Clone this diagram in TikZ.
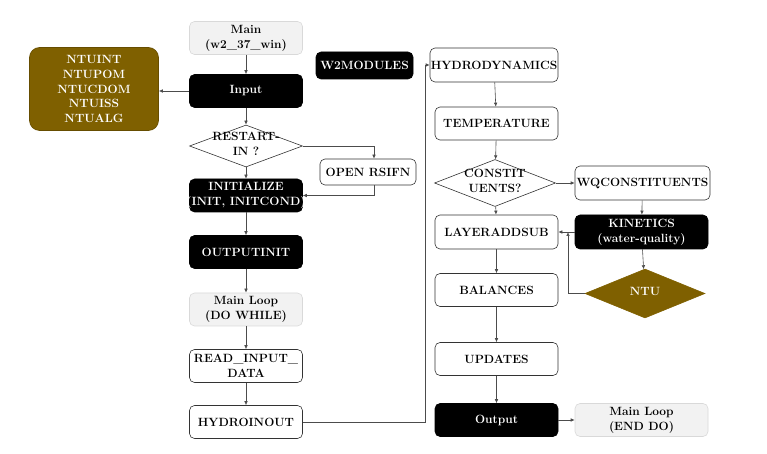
\documentclass[tikz,border=0pt]{standalone}
\usepackage{xcolor}
\usepackage{tikz}
\usetikzlibrary{positioning,arrows.meta,shapes}

\definecolor{ntubrown}{RGB}{127,96,0}
\definecolor{loopgray}{RGB}{242,242,242}
\newcommand{\dtext}[1]{\makebox[0pt]{\raisebox{-0.4ex}[0pt][0pt]{\begin{tabular}{@{}c@{}}#1\end{tabular}}}}

\begin{document}
\begin{tikzpicture}[x=1bp,y=-1bp,
  every node/.style={font=\fontsize{12}{15}\selectfont\bfseries,align=center},
  box/.style={rectangle,rounded corners=5bp,draw=black!80,line width=0.6pt,
    minimum width=113bp,minimum height=33bp,inner sep=1bp},
  dark/.style={box,fill=black,draw=black,text=white},
  pale/.style={box,fill=loopgray,draw=black!15},
  diam/.style={diamond,draw=black!80,line width=0.6pt,inner sep=0pt},
  conn/.style={draw=black!70,line width=0.6pt,-{Latex[length=4bp,width=3.5bp]}}]
  \useasboundingbox (0,0) rectangle (767,454);

  % left column
  \node[pale] (main) at (246,38) {Main\\(w2\_37\_win)};
  \node[dark] (input) at (246,91) {Input};
  \node[box,fill=ntubrown,draw=ntubrown!80!black,text=white,rounded corners=10bp,
    minimum width=129bp,minimum height=83bp] (ntulist) at (94,89)
    {NTUINT\\NTUPOM\\NTUCDOM\\NTUISS\\NTUALG};
  \node[diam,minimum width=113bp,minimum height=42bp] (restart) at (246,146)
    {\dtext{RESTART-\\IN ?}};
  \node[box,minimum width=96bp,minimum height=26bp] (rsifn) at (368,172) {OPEN RSIFN};
  \node[dark] (init) at (246,195.5)
    {\makebox[108bp]{INITIALIZE}\\\makebox[108bp]{(INIT, INITCOND)}};
  \node[dark] (outinit) at (246,252) {OUTPUTINIT};
  \node[pale] (loopstart) at (246,309.5) {Main Loop\\(DO WHILE)};
  \node[box] (readin) at (246,366) {READ\_INPUT\_\\DATA};
  \node[box] (hydroio) at (246,422) {HYDROINOUT};

  % right column
  \node[dark,minimum width=97bp,minimum height=27bp] (modules) at (364.5,65.5) {W2MODULES};
  \node[box,minimum width=128bp,minimum height=34bp] (hydro) at (494,65)
    {\makebox[124bp]{HYDRODYNAMICS}};
  \node[box,minimum width=123bp] (temp) at (496.5,123.5) {TEMPERATURE};
  \node[diam,minimum width=121bp,minimum height=47bp] (constit) at (495,183)
    {\dtext{CONSTIT\\UENTS?}};
  \node[box,minimum width=135bp,minimum height=34bp] (wqc) at (642.5,183)
    {\makebox[131bp]{WQCONSTITUENTS}};
  \node[dark,minimum width=133bp,minimum height=34bp] (kinetics) at (641.5,232)
    {KINETICS\\(water-quality)};
  \node[box,minimum width=123bp,minimum height=34bp] (layer) at (496.5,232) {LAYERADDSUB};
  \node[diam,fill=ntubrown,draw=ntubrown,text=white,minimum width=120bp,
    minimum height=49bp] (ntu) at (645,293.5) {\dtext{NTU}};
  \node[box,minimum width=123bp] (balances) at (496.5,290) {BALANCES};
  \node[box,minimum width=123bp] (updates) at (496.5,359) {UPDATES};
  \node[dark,minimum width=123bp] (output) at (496.5,420) {Output};
  \node[pale,minimum width=133bp] (loopend) at (641.5,420) {Main Loop\\(END DO)};

  \coordinate (jog) at (425,65);
  \coordinate (merge) at (568,232);

  % connectors
  \draw[conn] (main) -- (input);
  \draw[conn] (input.west) -- (ntulist.east |- input.west);
  \draw[conn] (input) -- (restart);
  \draw[conn] (restart) -- (init);
  \draw[conn] (restart.east) -| ([xshift=6bp]rsifn.north);
  \draw[conn] ([xshift=6bp]rsifn.south) |- (init.east);
  \draw[conn] (init) -- (outinit);
  \draw[conn] (outinit) -- (loopstart);
  \draw[conn] (loopstart) -- (readin);
  \draw[conn] (readin) -- (hydroio);
  \draw[conn] (hydroio.east) -| (jog) -- (hydro.west);
  \draw[conn] (hydro) -- (temp);
  \draw[conn] (temp) -- (constit);
  \draw[conn] (constit) -- (layer);
  \draw[conn] (constit) -- (wqc);
  \draw[conn] (wqc) -- (kinetics);
  \draw[conn] (kinetics) -- (layer);
  \draw[conn] (kinetics) -- (ntu);
  \draw[conn] (ntu.west) -| (merge);
  \draw[conn] (layer) -- (balances);
  \draw[conn] (balances) -- (updates);
  \draw[conn] (updates) -- (output);
  \draw[conn] (output) -- (loopend);
\end{tikzpicture}
\end{document}
